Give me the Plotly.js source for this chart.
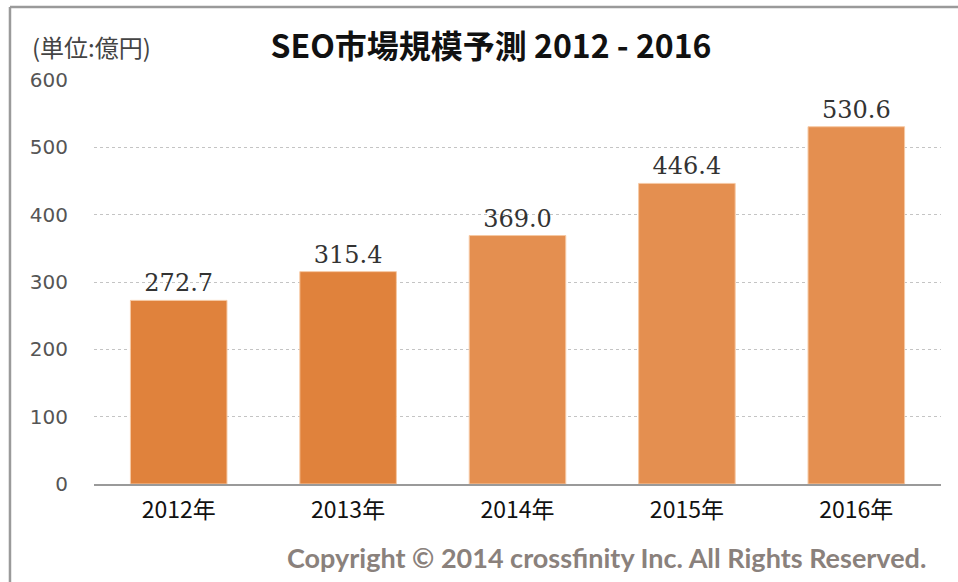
<!DOCTYPE html>
<html>
<head>
<meta charset="utf-8">
<script src="https://cdn.plot.ly/plotly-3.0.1.min.js"></script>
<style>html,body{margin:0;padding:0;background:#fff;}#chart{width:958px;height:582px;}</style>
</head>
<body>
<div id="chart"></div>
<script>
const categories = ["2012年", "2013年", "2014年", "2015年", "2016年"];
const values = [272.7, 315.4, 369.0, 446.4, 530.6];
const valueLabels = ["272.7", "315.4", "369.0", "446.4", "530.6"];
const barColors = ["#E0823C", "#E0823C", "#E48F50", "#E48F50", "#E48F50"];
const yTicks = [0, 100, 200, 300, 400, 500, 600];

const trace = {
  type: "bar",
  x: categories,
  y: values,
  text: valueLabels,
  textposition: "outside",
  cliponaxis: false,
  textfont: {family: "DejaVu Serif", size: 24, color: "#333333"},
  marker: {color: barColors, line: {color: "#F6C9A4", width: 1}},
  width: 0.57,
  hoverinfo: "none"
};

const layout = {
  width: 958, height: 582,
  margin: {l: 94, r: 17, t: 80, b: 98},
  paper_bgcolor: "#ffffff", plot_bgcolor: "#ffffff",
  showlegend: false,
  title: {
    text: "<b>SEO市場規模予測 2012 - 2016</b>",
    font: {family: "Noto Sans CJK JP", size: 32, color: "#111111"},
    x: 0.5125, xref: "container", xanchor: "center",
    y: 0.919, yref: "container", yanchor: "middle"
  },
  xaxis: {
    type: "category",
    showline: true, linecolor: "#9a9a9a", linewidth: 1.5,
    showgrid: false, ticks: "",
    tickfont: {family: "Noto Sans CJK JP", size: 23, color: "#111111"},
    ticklabelstandoff: 5
  },
  yaxis: {
    range: [0, 600],
    tickvals: yTicks,
    showgrid: true, gridcolor: "#c4c4c4", gridwidth: 1, griddash: "dot",
    zeroline: false, showline: false, ticks: "",
    tickfont: {family: "DejaVu Sans", size: 20, color: "#555555"},
    ticklabelstandoff: 25
  },
  annotations: [
    {text: "(単位:億円)", xref: "paper", yref: "paper", x: -0.0756, y: 1.0817,
     xanchor: "left", yanchor: "middle", showarrow: false,
     font: {family: "Noto Sans CJK JP", size: 24, color: "#444444"}},
    {text: "<b>Copyright © 2014 crossfinity Inc. All Rights Reserved.</b>", xref: "paper", yref: "paper",
     x: 0.9846, y: -0.1807, xanchor: "right", yanchor: "middle", showarrow: false,
     font: {family: "Lato", size: 27, color: "#8A817C"}}
  ],
  shapes: [
    {type: "line", xref: "paper", yref: "paper", x0: -0.0992, x1: -0.0992, y0: 1.1807, y1: -0.25,
     line: {color: "#9a9a9a", width: 2.5}},
    {type: "line", xref: "paper", yref: "paper", x0: -0.0992, x1: 1.03, y0: 1.1807, y1: 1.1807,
     line: {color: "#9a9a9a", width: 2.5}}
  ]
};

Plotly.newPlot("chart", [trace], layout, {displayModeBar: false, staticPlot: true});
</script>
</body>
</html>
